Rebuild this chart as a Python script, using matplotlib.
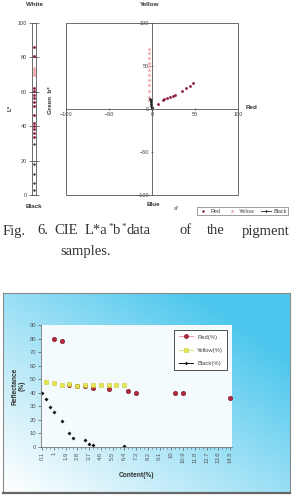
import numpy as np
import matplotlib
matplotlib.use('Agg')
import matplotlib.pyplot as plt
from matplotlib.lines import Line2D
from matplotlib.patches import Rectangle

plt.rcParams['font.family'] = ['Liberation Sans', 'DejaVu Sans']

# ---- top: L* values ----
l_red = [86, 81, 62.5, 60.5, 58, 56.5, 54, 51.5, 46.5, 42, 40, 38.5, 36, 33.5]
l_yellow = [74, 72.5, 71.5, 70.5, 69.5]
l_black = [29.5, 18, 12.5, 7, 3]

# ---- top: a*b* values ----
ab_red_a = [6.5, 12.5, 14.5, 17.5, 20.5, 24, 27, 35, 40, 44, 48]
ab_red_b = [6, 10, 11.5, 12.5, 14, 15, 16.5, 21, 24, 26.5, 30]
ab_yel_a = [-4, -4, -4, -4, -4, -4, -4, -4, -3.5, -3.5, -3, -3]
ab_yel_b = [70, 65, 59, 54, 50, 45, 40, 34, 28, 21, 14, 10]
ab_blk_a = [-2, -1.7, -1.3, -1, -0.7, -0.4, -0.2, 0]
ab_blk_b = [12, 10, 8, 6, 4, 2.5, 1, 0]

# ---- bottom: reflectance vs content ----
red_x = [1.0, 1.6, 2.2, 2.8, 3.4, 4.0, 5.2, 6.7, 7.3, 10.3, 10.9, 14.5]
red_y = [80, 78.5, 45.5, 45, 45, 43.5, 42.5, 41.5, 39.5, 39.5, 39.5, 36.5]
yel_x = [0.4, 1.0, 1.6, 2.2, 2.8, 3.4, 4.0, 4.6, 5.2, 5.8, 6.4]
yel_y = [48, 47, 45.5, 46.5, 45, 46, 46, 45.5, 45.5, 45.5, 45.5]
blk_x = [0.1, 0.4, 0.7, 1.0, 1.6, 2.2, 2.5, 3.4, 3.7, 4.0, 6.4]
blk_y = [40, 35.5, 29.5, 26, 19, 10, 7, 5, 2.5, 1.8, 0.8]
xtick_vals = [0.1, 1, 1.9, 2.8, 3.7, 4.6, 5.5, 6.4, 7.3, 8.2, 9.1, 10, 10.9, 11.8, 12.7, 13.6, 14.5]
xtick_labels = ['0.1', '1', '1.9', '2.8', '3.7', '4.6', '5.5', '6.4', '7.3', '8.2',
                '9.1', '10', '10.9', '11.8', '12.7', '13.6', '14.5']

W, H = 293, 495
fig = plt.figure(figsize=(W / 100, H / 100), dpi=100)

def fx(px):
    return px / W

def fy(py):
    return 1 - py / H

red_c = '#8b1a40'
pink_c = '#f09a9a'
lab = dict(fontsize=4.5, fontweight='bold', color='#333333')

# L* strip
axl = fig.add_axes([fx(32), fy(195), fx(4), fy(23) - fy(195)])
axl.plot([0] * len(l_red), l_red, 'o', color=red_c, ms=2.0, mew=0)
axl.plot([0.3] * len(l_yellow), l_yellow, marker='*', ls='none', color=pink_c, ms=3.2, mew=0)
axl.plot([0] * len(l_black), l_black, 'D', color='#333333', ms=1.5, mew=0)
axl.set_xlim(-1, 1.5)
axl.set_ylim(0, 100)
axl.set_yticks(range(0, 101, 20))
axl.set_xticks([])
axl.tick_params(axis='y', labelsize=4, direction='inout', length=5, width=0.5,
                colors='#444444', right=True, pad=1)
for s in ['top', 'bottom']:
    axl.spines[s].set_visible(False)
for s in ['left', 'right']:
    axl.spines[s].set_linewidth(0.6)
    axl.spines[s].set_color('#555555')
fig.text(fx(10), fy(108), 'L*', rotation=90, ha='center', va='center', **lab)
fig.text(fx(34), fy(5), 'White', ha='center', va='center', **lab)
fig.text(fx(34), fy(207), 'Black', ha='center', va='center', **lab)

# a*b* plane
axa = fig.add_axes([fx(66), fy(195), fx(238) - fx(66), fy(23) - fy(195)])
axa.plot(ab_red_a, ab_red_b, 'o', color=red_c, ms=2.0, mew=0)
axa.plot(ab_yel_a, ab_yel_b, marker='*', ls='none', color=pink_c, ms=3.2, mew=0)
axa.plot(ab_blk_a, ab_blk_b, '-D', color='#222222', ms=1.6, lw=0.7, mew=0)
axa.set_xlim(-100, 100)
axa.set_ylim(-100, 100)
axa.spines['left'].set_position('zero')
axa.spines['bottom'].set_position('zero')
axa.spines['top'].set_visible(False)
axa.spines['right'].set_visible(False)
for s in ['left', 'bottom']:
    axa.spines[s].set_color('#555555')
    axa.spines[s].set_linewidth(0.6)
axa.add_patch(Rectangle((0, 0), 1, 1, transform=axa.transAxes, fill=False,
                        ec='#555555', lw=0.6, clip_on=False))
axa.set_xticks([-100, -50, 0, 50, 100])
axa.set_yticks([-100, -50, 0, 50, 100])
axa.tick_params(labelsize=4, length=2, width=0.5, colors='#444444', pad=1,
                direction='inout')
fig.text(fx(150), fy(4), 'Yellow', ha='center', va='center', **lab)
fig.text(fx(252), fy(107), 'Red', ha='center', va='center', **lab)
fig.text(fx(153), fy(205), 'Blue', ha='center', va='center', **lab)
fig.text(fx(176), fy(209), 'a*', ha='center', va='center', fontsize=4, color='#333333')
fig.text(fx(50), fy(100), 'Green  b*', rotation=90, ha='center', va='center', **lab)

top_handles = [
    Line2D([], [], marker='o', ls='none', color=red_c, ms=1.8, mew=0),
    Line2D([], [], marker='*', ls='none', color=pink_c, ms=3.0, mew=0),
    Line2D([], [], marker='D', ls='-', color='#222222', ms=1.5, lw=0.6, mew=0),
]
lg = fig.legend(top_handles, ['Red', 'Yellow', 'Black'], loc='center',
                bbox_to_anchor=(fx(242.5), fy(211)), ncol=3, fontsize=4.0,
                frameon=True, fancybox=False, edgecolor='#555555',
                handlelength=1.8, handletextpad=0.5, columnspacing=1.0,
                borderpad=0.25, labelcolor='#444444')
lg.get_frame().set_linewidth(0.5)

# caption, justified by hand
cap_font = dict(family=['Liberation Serif', 'DejaVu Serif'], fontsize=10.5,
                color='#333333')
sup_font = dict(family=['Liberation Serif', 'DejaVu Serif'], fontsize=6.5,
                color='#333333')
words = [(3, 'Fig.'), (37, '6.'), (54, 'CIE'), (179, 'of'), (207, 'the'), (242, 'pigment')]
for px, w in words:
    fig.text(fx(px), fy(231), w, va='center', ha='left', **cap_font)

# "L*a*b*data" with raised asterisks, pieces chained left to right
inv = fig.transFigure.inverted()
x_cur = fx(84)
y_sup = fy(231) + 0.016
for piece, sup in [('L*a', False), ('*', True), ('b', False), ('*', True), ('data', False)]:
    if sup:
        t = fig.text(x_cur + 0.002, y_sup, piece, va='top', ha='left', **sup_font)
    else:
        t = fig.text(x_cur + 0.003, fy(231), piece, va='center', ha='left', **cap_font)
    fig.canvas.draw()
    x_cur = inv.transform((t.get_window_extent().x1, 0))[0]
fig.text(fx(60), fy(251), 'samples.', va='center', ha='left', **cap_font)

# bottom chart background with gradient
axbg = fig.add_axes([fx(3), fy(493), fx(290) - fx(3), fy(293) - fy(493)])
u, v = np.meshgrid(np.linspace(0, 1, 200), np.linspace(1, 0, 150))
t = np.clip(0.6 * u + 0.6 * v, 0, 1) ** 1.1
c0 = np.array([1.0, 1.0, 1.0])
c1 = np.array([0.30, 0.78, 0.93])
img = c0 + (c1 - c0) * t[..., None]
axbg.imshow(img, aspect='auto', extent=(0, 1, 0, 1))
axbg.set_xticks([])
axbg.set_yticks([])
for s in axbg.spines.values():
    s.set_color('#8a8a8a')
    s.set_linewidth(0.8)
axbg.spines['bottom'].set_linewidth(1.6)
axbg.spines['bottom'].set_color('#666666')

ax = fig.add_axes([fx(41), fy(447), fx(232) - fx(41), fy(325) - fy(447)])
ax.set_facecolor('#f4fbfe')
ax.plot(red_x, red_y, 'o', color='#b02a3c', mec='#7a1525', ms=3.2, mew=0.4)
ax.plot(yel_x, yel_y, 's', color='#e6e650', mec='#c8c83a', ms=3.0, mew=0.4)
ax.plot(blk_x, blk_y, 'D', color='#111111', ms=2.0, mew=0)
ax.set_xlim(0.02, 14.65)
ax.set_ylim(0, 90)
ax.set_yticks(range(0, 91, 10))
ax.set_xticks(xtick_vals)
ax.set_xticklabels(xtick_labels, rotation=90)
ax.set_xticks(np.arange(0.1, 14.55, 0.3), minor=True)
ax.tick_params(labelsize=4.2, colors='#555555', length=2, width=0.5, pad=1.5)
ax.tick_params(axis='x', which='minor', length=1.5, width=0.4, colors='#555555')
for s in ['top', 'right']:
    ax.spines[s].set_visible(False)
for s in ['left', 'bottom']:
    ax.spines[s].set_color('#777777')
    ax.spines[s].set_linewidth(0.6)
ax.set_ylabel('Reflectance\n(%)', fontsize=4.8, fontweight='bold', color='#333333',
              linespacing=1.0, labelpad=3)
ax.set_xlabel('Content(%)', fontsize=4.8, fontweight='bold', color='#333333',
              labelpad=6)

bot_handles = [
    Line2D([], [], marker='o', ls='-', color='#e89aa8', mfc='#b02a3c', mec='#7a1525',
           ms=3.0, lw=0.7, mew=0.4),
    Line2D([], [], marker='s', ls='-', color='#d8e870', mfc='#e6e650', mec='#c8c83a',
           ms=2.8, lw=0.7, mew=0.4),
    Line2D([], [], marker='D', ls='-', color='#111111', ms=1.8, lw=0.7, mew=0),
]
lg2 = ax.legend(bot_handles, ['Red(%)', 'Yellow(%)', 'Black(%)'], loc='upper right',
                bbox_to_anchor=(0.99, 0.98), fontsize=4.2, frameon=True, fancybox=False,
                edgecolor='#333333', facecolor='white', framealpha=1,
                handlelength=2.4, labelspacing=1.4, borderpad=0.7, labelcolor='#444444')
lg2.get_frame().set_linewidth(0.6)

fig.savefig('out.png', dpi=100)
